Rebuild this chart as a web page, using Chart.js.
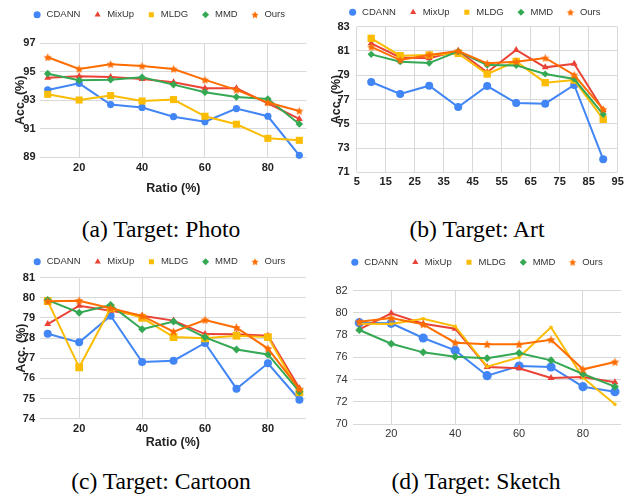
<!DOCTYPE html>
<html><head><meta charset="utf-8">
<script src="https://cdn.jsdelivr.net/npm/chart.js@4"></script>
<style>
html,body{margin:0;padding:0;background:#fff;}
#wrap{position:relative;width:633px;height:494px;overflow:hidden;background:#fff;}
canvas{position:absolute;}
.cap{position:absolute;font-family:"Liberation Serif","Times New Roman",serif;font-size:23.6px;color:#000;white-space:nowrap;transform:translateX(-50%);line-height:24px;}
</style></head><body>
<div id="wrap">
<canvas id="cA" width="316" height="200" style="left:0;top:0"></canvas>
<canvas id="cB" width="317" height="200" style="left:316px;top:0"></canvas>
<canvas id="cC" width="316" height="212" style="left:0;top:245px"></canvas>
<canvas id="cD" width="317" height="205" style="left:316px;top:245px"></canvas>
<div class="cap" style="left:161px;top:217px">(a) Target: Photo</div>
<div class="cap" style="left:477px;top:217px">(b) Target: Art</div>
<div class="cap" style="left:161px;top:469px">(c) Target: Cartoon</div>
<div class="cap" style="left:476px;top:469px">(d) Target: Sketch</div>
</div>
<script>
// ---- data ----
const ratios = [10, 20, 30, 40, 50, 60, 70, 80, 90];
const seriesNames = ['CDANN', 'MixUp', 'MLDG', 'MMD', 'Ours'];

const photoCDANN = [93.73, 94.19, 92.70, 92.50, 91.85, 91.50, 92.42, 91.88, 89.14];
const photoMixUp = [94.59, 94.68, 94.64, 94.50, 94.26, 93.84, 93.84, 92.79, 91.69];
const photoMLDG  = [93.42, 93.02, 93.33, 92.95, 93.05, 91.88, 91.32, 90.33, 90.19];
const photoMMD   = [94.87, 94.40, 94.45, 94.61, 94.10, 93.56, 93.23, 93.09, 91.34];
const photoOurs  = [96.02, 95.20, 95.53, 95.41, 95.20, 94.43, 93.73, 92.84, 92.25];

const artCDANN = [78.44, 77.45, 78.14, 76.38, 78.11, 76.71, 76.66, 78.20, 72.07];
const artMixUp = [81.63, 80.47, 80.40, 81.02, 79.25, 81.08, 79.65, 79.95, 76.14];
const artMLDG  = [82.04, 80.61, 80.67, 80.80, 79.10, 80.14, 78.39, 78.60, 75.37];
const artMMD   = [80.72, 80.12, 80.00, 80.97, 79.84, 79.81, 79.10, 78.69, 75.78];
const artOurs  = [81.33, 80.25, 80.67, 81.00, 79.98, 80.12, 80.42, 79.02, 76.19];

const cartoonCDANN = [78.22, 77.79, 79.11, 76.81, 76.88, 77.76, 75.49, 76.75, 74.94];
const cartoonMixUp = [78.70, 79.61, 79.36, 79.11, 78.87, 78.20, 78.19, 78.12, 75.51];
const cartoonMLDG  = [79.84, 76.55, 79.48, 79.01, 78.05, 77.99, 78.12, 78.05, 75.31];
const cartoonMMD   = [79.89, 79.26, 79.64, 78.44, 78.82, 78.04, 77.44, 77.19, 75.34];
const cartoonOurs  = [79.83, 79.86, 79.48, 79.10, 78.32, 78.90, 78.52, 77.48, 75.47];

const sketchCDANN = [79.12, 79.06, 77.74, 76.63, 74.35, 75.22, 75.13, 73.36, 72.91];
const sketchMixUp = [78.52, 79.96, 79.03, 78.58, 75.13, 75.01, 74.14, 74.23, 73.75];
const sketchMLDG  = [79.03, 79.00, 79.48, 78.79, 75.16, 76.00, 78.70, 74.17, 71.77];
const sketchMMD   = [78.46, 77.23, 76.45, 76.06, 75.91, 76.39, 75.73, 74.50, 73.36];
const sketchOurs  = [79.21, 79.54, 78.97, 77.32, 77.17, 77.17, 77.59, 74.92, 75.58];

const photoYTicks   = [89, 91, 93, 95, 97];
const artYTicks     = [71, 73, 75, 77, 79, 81, 83];
const cartoonYTicks = [74, 75, 76, 77, 78, 79, 80, 81];
const sketchYTicks  = [70, 72, 74, 76, 78, 80, 82];
const ratioXTicks   = [20, 40, 60, 80];
const artXTicks     = [5, 15, 25, 35, 45, 55, 65, 75, 85, 95];

const yTitle = 'Acc. (%)';
const xTitle = 'Ratio (%)';

// ---- styling ----
const colors = ['#4285F4', '#EA4335', '#FBBC04', '#34A853', '#FF6D01'];
const shapes = ['circle', 'triangle', 'rect', 'rectRot', 'star'];
Chart.defaults.font.family = '"Liberation Sans", Arial, sans-serif';
Chart.defaults.color = '#222';

function starCanvas(R, color) {
  const s = Math.ceil(R * 2) + 2;
  const c = document.createElement('canvas');
  c.width = s; c.height = s;
  const g = c.getContext('2d');
  g.fillStyle = color;
  g.beginPath();
  for (let i = 0; i < 10; i++) {
    const r = i % 2 ? R * 0.48 : R;
    const a = -Math.PI / 2 + i * Math.PI / 5;
    g.lineTo(s / 2 + r * Math.cos(a), s / 2 + r * Math.sin(a) + R * 0.08);
  }
  g.closePath();
  g.fill();
  return c;
}
const legendStar = starCanvas(3.8, colors[4]);

const fixLayout = {
  id: 'fixLayout',
  beforeLayout(chart, args, opts) {
    const lg = chart.legend;
    if (lg && !lg._patched) {
      const f = lg.fit;
      lg.fit = function () { f.call(this); this.height = opts.areaTop; };
      lg._patched = true;
    }
  },
  afterLayout(chart, args, opts) {
    const lg = chart.legend;
    const w = lg.right - lg.left;
    lg.left = opts.legendX - w / 2;
    lg.right = lg.left + w;
    const pad = lg.options.labels.padding;
    lg.top = opts.legendY - pad - 4.75;
    lg.bottom = lg.top + lg.height;
  }
};

function panel(id, p) {
  const canvas = document.getElementById(id);
  const W = canvas.width, H = canvas.height;
  const datasets = p.series.map((vals, i) => ({
    label: seriesNames[i],
    data: ratios.map((x, j) => ({ x: x, y: vals[j] })),
    borderColor: colors[i],
    backgroundColor: colors[i],
    pointBackgroundColor: colors[i],
    pointBorderColor: colors[i],
    pointBorderWidth: 0,
    pointHoverBorderWidth: 0,
    borderWidth: 2,
    pointStyle: i === 4 ? starCanvas(p.pt[4], colors[4]) : shapes[i],
    pointRadius: p.pt[i],
    pointHoverRadius: p.pt[i],
    order: 4 - i,
    tension: 0,
    fill: false,
    clip: false
  }));
  const tickFont = { size: 11, weight: p.boldTicks ? 'bold' : 'normal' };
  const tickColor = p.boldTicks ? '#222' : '#333';
  new Chart(canvas, {
    type: 'line',
    data: { datasets },
    plugins: [fixLayout],
    options: {
      responsive: false,
      animation: false,
      devicePixelRatio: 1,
      events: [],
      layout: { padding: { left: 0, top: 0, right: W - p.area.r, bottom: 0 } },
      plugins: {
        fixLayout: { areaTop: p.area.t, legendX: p.legendX, legendY: p.legendY },
        tooltip: { enabled: false },
        legend: {
          position: 'top',
          labels: {
            usePointStyle: true,
            boxWidth: 9.5,
            boxHeight: 5,
            padding: 12.5,
            color: '#333',
            font: { size: 9.5 },
            sort: (a, b) => a.datasetIndex - b.datasetIndex,
            generateLabels: (chart) => {
              const items = Chart.defaults.plugins.legend.labels.generateLabels(chart);
              items.forEach(it => {
                it.lineWidth = 0;
                if (it.datasetIndex === 4) it.pointStyle = legendStar;
              });
              return items;
            }
          }
        }
      },
      scales: {
        x: {
          type: 'linear',
          min: p.xMin, max: p.xMax,
          afterBuildTicks: (s) => { s.ticks = p.xTicks.map(v => ({ value: v })); },
          afterFit: (s) => { s.height = H - p.area.b; s.paddingLeft = 0; s.paddingRight = 0; },
          ticks: { font: tickFont, color: tickColor, padding: p.xTickPad, maxRotation: 0, autoSkip: false,
                   callback: (v) => String(v) },
          grid: { color: '#d9d9d9', lineWidth: 1, drawTicks: false },
          border: { display: false },
          title: { display: !!p.xTitle, text: xTitle, color: '#222',
                   font: { size: 12.5, weight: 'bold' }, padding: { top: 0, bottom: p.xTitlePad || 0 } }
        },
        y: {
          type: 'linear',
          min: p.yMin, max: p.yMax,
          afterBuildTicks: (s) => { s.ticks = p.yTicks.map(v => ({ value: v })); },
          afterFit: (s) => { s.width = p.area.l; s.paddingTop = 0; s.paddingBottom = 0; },
          ticks: { font: tickFont, color: tickColor, padding: p.yTickPad, autoSkip: false,
                   callback: (v) => String(v) },
          grid: { color: '#d9d9d9', lineWidth: 1, drawTicks: false },
          border: { display: false },
          title: { display: !!p.yTitle, text: yTitle, color: '#222',
                   font: { size: 12.5, weight: 'bold' }, padding: { top: p.yTitlePad || 0, bottom: 0 } }
        }
      }
    }
  });
}

panel('cA', {
  series: [photoCDANN, photoMixUp, photoMLDG, photoMMD, photoOurs],
  area: { l: 40, r: 306.7, t: 43.3, b: 157.3 },
  xMin: 7.55, xMax: 92.35, xTicks: ratioXTicks,
  yMin: 89, yMax: 97, yTicks: photoYTicks,
  pt: [3.6, 4, 5, 3.8, 4.3],
  boldTicks: true, xTickPad: 4.5, yTickPad: 4.5,
  xTitle: true, xTitlePad: 3.5, yTitle: true, yTitlePad: 13,
  legendX: 158.7, legendY: 14.7
});
panel('cB', {
  series: [artCDANN, artMixUp, artMLDG, artMMD, artOurs],
  area: { l: 40.7, r: 301.7, t: 26.7, b: 172.3 },
  xMin: 5, xMax: 95, xTicks: artXTicks,
  yMin: 71, yMax: 83, yTicks: artYTicks,
  pt: [4, 4, 5.2, 3.6, 4.3],
  boldTicks: true, xTickPad: 3.5, yTickPad: 7,
  xTitle: false, yTitle: true, yTitlePad: 13.3,
  legendX: 158.2, legendY: 12.3
});
panel('cC', {
  series: [cartoonCDANN, cartoonMixUp, cartoonMLDG, cartoonMMD, cartoonOurs],
  area: { l: 40, r: 305.7, t: 32.7, b: 173.7 },
  xMin: 7.55, xMax: 92.0, xTicks: ratioXTicks,
  yMin: 74, yMax: 81, yTicks: cartoonYTicks,
  pt: [4, 4, 5.5, 4, 4.5],
  boldTicks: true, xTickPad: 3.5, yTickPad: 5,
  xTitle: true, xTitlePad: 6.8, yTitle: true, yTitlePad: 13.6,
  legendX: 158.8, legendY: 16.7
});
panel('cD', {
  series: [sketchCDANN, sketchMixUp, sketchMLDG, sketchMMD, sketchOurs],
  area: { l: 36.7, r: 305, t: 45.7, b: 179 },
  xMin: 7.93, xMax: 91.9, xTicks: ratioXTicks,
  yMin: 70, yMax: 82, yTicks: sketchYTicks,
  pt: [4.6, 4, 2.2, 4, 4.5],
  boldTicks: false, xTickPad: 3, yTickPad: 5,
  xTitle: false, yTitle: false,
  legendX: 160.4, legendY: 17.3
});
</script>
</body></html>
